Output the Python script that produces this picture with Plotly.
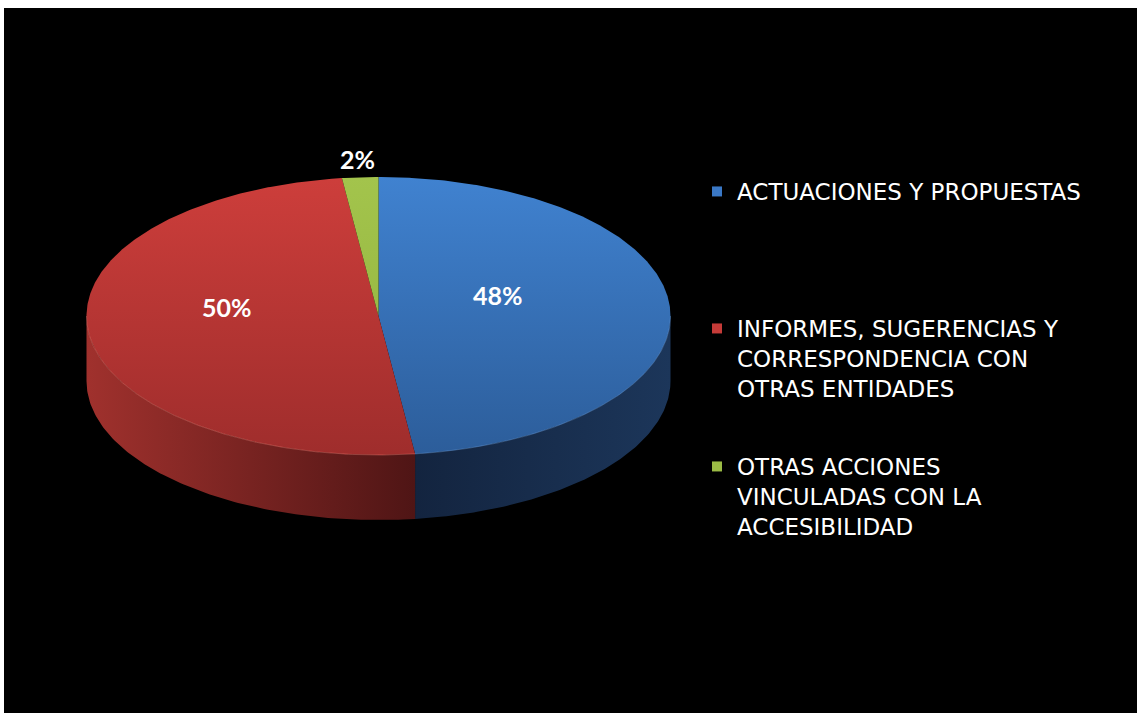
import numpy as np
import plotly.graph_objects as go

# ---- data ----
categories = [
    "ACTUACIONES Y PROPUESTAS",
    "INFORMES, SUGERENCIAS Y<br>CORRESPONDENCIA CON<br>OTRAS ENTIDADES",
    "OTRAS ACCIONES<br>VINCULADAS CON LA<br>ACCESIBILIDAD",
]
values = [48, 50, 2]
pct_labels = ["48%", "50%", "2%"]

# ---- style ----
top_colors = [("#4082d0", "#2c5d9a"), ("#cd3e3b", "#9f2d2c"), ("#a3c44c", "#8fb03c")]
side_colors = [("#13243f", "#1c365a"), ("#a0312d", "#4f1515"), ("#7a9a30", "#5a7520")]
legend_colors = ["#3a78c6", "#c53b38", "#9bbb45"]

W, H = 1137, 713
L, T = 4, 8
cx, cy, rx, ry, depth = 378.5, 316.0, 292.0, 139.0, 65.0

def pt(theta_deg, scale=1.0, dz=0.0):
    t = np.radians(theta_deg)
    return cx + scale * rx * np.sin(t), cy - scale * ry * np.cos(t) + dz

total = sum(values)
starts, ends = [], []
acc = 0.0
for v in values:
    starts.append(acc / total * 360.0)
    acc += v
    ends.append(acc / total * 360.0)

fig = go.Figure()

# side faces (front half, theta in 90..270)
for i in range(len(values)):
    a, b = max(starts[i], 90.0), min(ends[i], 270.0)
    if b <= a:
        continue
    th = np.linspace(a, b, 120)
    xt, yt = pt(th)
    xb, yb = pt(th[::-1], dz=depth)
    xs = np.concatenate([xt, xb, xt[:1]])
    ys = np.concatenate([yt, yb, yt[:1]])
    fig.add_trace(go.Scatter(
        x=xs, y=ys, mode="lines", fill="toself", line=dict(width=0),
        fillgradient=dict(type="horizontal",
                          colorscale=[[0, side_colors[i][0]], [1, side_colors[i][1]]],
                          start=float(xt.min()), stop=float(xt.max())),
        hoverinfo="skip", showlegend=False))

# top faces
for i in range(len(values)):
    th = np.linspace(starts[i], ends[i], max(6, int((ends[i] - starts[i]) * 2)))
    xa, ya = pt(th)
    xs = np.concatenate([[cx], xa, [cx]])
    ys = np.concatenate([[cy], ya, [cy]])
    fig.add_trace(go.Scatter(
        x=xs, y=ys, mode="lines", fill="toself", line=dict(width=0),
        fillgradient=dict(type="vertical",
                          colorscale=[[0, top_colors[i][0]], [1, top_colors[i][1]]],
                          start=cy - ry, stop=cy + ry),
        name=categories[i], hoverinfo="skip", showlegend=False))

# subtle rim highlight on front edge
for i in range(len(values)):
    a, b = max(starts[i], 90.0), min(ends[i], 270.0)
    if b <= a:
        continue
    th = np.linspace(a, b, 120)
    xr, yr = pt(th)
    fig.add_trace(go.Scatter(x=xr, y=yr, mode="lines",
                             line=dict(width=1, color="rgba(255,140,130,0.35)" if i == 1 else "rgba(120,170,230,0.35)"),
                             hoverinfo="skip", showlegend=False))

# percentage labels
for i in range(len(values)):
    mid = (starts[i] + ends[i]) / 2
    if values[i] / total < 0.05:
        x, y = pt(mid, 1.13)
    else:
        x, y = pt(mid, 0.465)
        x, y = x - 16.5, y - 17
    fig.add_annotation(x=x, y=y, text="<b>%s</b>" % pct_labels[i], showarrow=False,
                       font=dict(family="Lato", size=25, color="white"),
                       xanchor="center", yanchor="middle")

# legend entries (one legend box per entry to place them like the original)
leg_names = ["legend", "legend2", "legend3"]
leg_top_px = [170, 307, 445]
for i in range(len(values)):
    fig.add_trace(go.Scatter(x=[None], y=[None], mode="markers",
                             marker=dict(symbol="square", size=10, color=legend_colors[i]),
                             name=categories[i], legend=leg_names[i], showlegend=True))

leg_x = (697 - L) / (W - L)
legend_common = dict(font=dict(family="DejaVu Sans", size=23, color="white"),
                     bgcolor="rgba(0,0,0,0)", xanchor="left", yanchor="top",
                     valign="top", itemclick=False, itemdoubleclick=False)
layout_legends = {}
for i, ln in enumerate(leg_names):
    layout_legends[ln] = dict(x=leg_x, y=1 - (leg_top_px[i] - T) / (H - T), **legend_common)

fig.update_layout(
    width=W, height=H,
    margin=dict(l=L, t=T, r=0, b=0, pad=0),
    paper_bgcolor="white", plot_bgcolor="black",
    xaxis=dict(range=[L, W], visible=False, fixedrange=True),
    yaxis=dict(range=[H, T], visible=False, fixedrange=True),
    **layout_legends,
)

fig.write_html("out.html", config={"displayModeBar": False},
               post_script="document.body.style.margin='0px';")
